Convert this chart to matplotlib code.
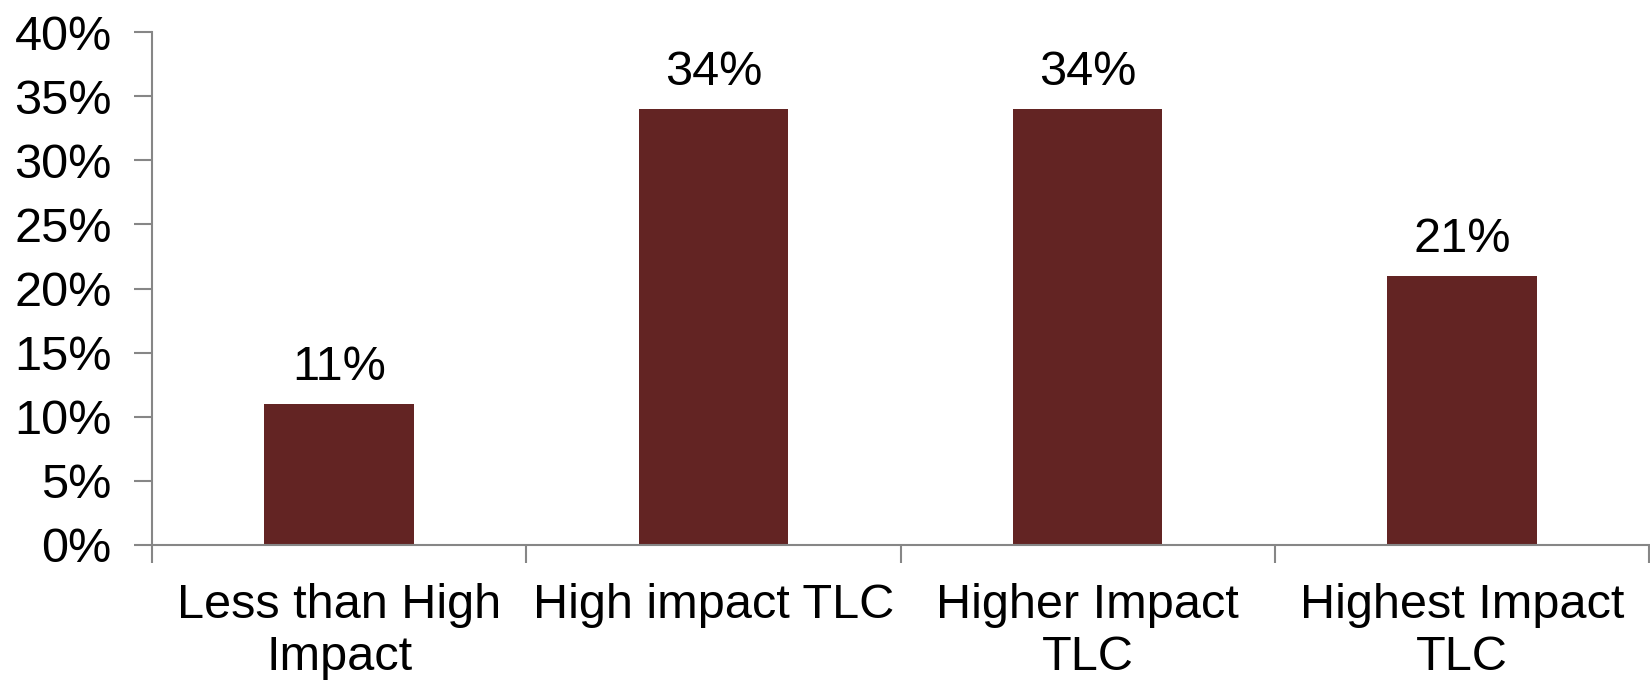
import matplotlib
matplotlib.use("Agg")
import matplotlib.pyplot as plt
from matplotlib.ticker import PercentFormatter, FixedLocator

categories = ["Less than High\nImpact", "High impact TLC", "Higher Impact\nTLC", "Highest Impact\nTLC"]
values = [0.11, 0.34, 0.34, 0.21]
value_labels = ["11%", "34%", "34%", "21%"]
yticks = [0, 0.05, 0.10, 0.15, 0.20, 0.25, 0.30, 0.35, 0.40]

plt.rcParams['font.family'] = ['Liberation Sans', 'DejaVu Sans']
fig = plt.figure(figsize=(16.5, 6.8), dpi=100)
ax = fig.add_axes([152/1650, 1-545/680, (1649-152)/1650, (545-32)/680])

x = list(range(len(categories)))
bars = ax.bar(x, values, width=0.4, color="#632423", linewidth=0, zorder=2)
ax.set_xlim(-0.5, len(categories)-0.5)
ax.set_ylim(0, 0.40)
ax.set_yticks(yticks)
ax.yaxis.set_major_formatter(PercentFormatter(1.0, decimals=0))
ax.set_xticks(x)
ax.set_xticklabels(categories, linespacing=1.22)
ax.xaxis.set_minor_locator(FixedLocator([-0.5, 0.5, 1.5, 2.5, 3.5]))
ax.tick_params(axis='x', which='major', length=0, pad=27, labelsize=35)
ax.tick_params(axis='x', which='minor', length=13, width=1.5, color="#868686", direction='out')
ax.tick_params(axis='y', length=13, width=1.5, color="#868686", labelsize=35, pad=16)

for s in ['top', 'right']:
    ax.spines[s].set_visible(False)
for s in ['left', 'bottom']:
    ax.spines[s].set_color("#868686")
    ax.spines[s].set_linewidth(1.5)

for xi, v, lab in zip(x, values, value_labels):
    ax.annotate(lab, (xi, v), xytext=(0, 10), textcoords='offset points',
                ha='center', va='bottom', fontsize=35)

fig.savefig("out.png", dpi=100)
